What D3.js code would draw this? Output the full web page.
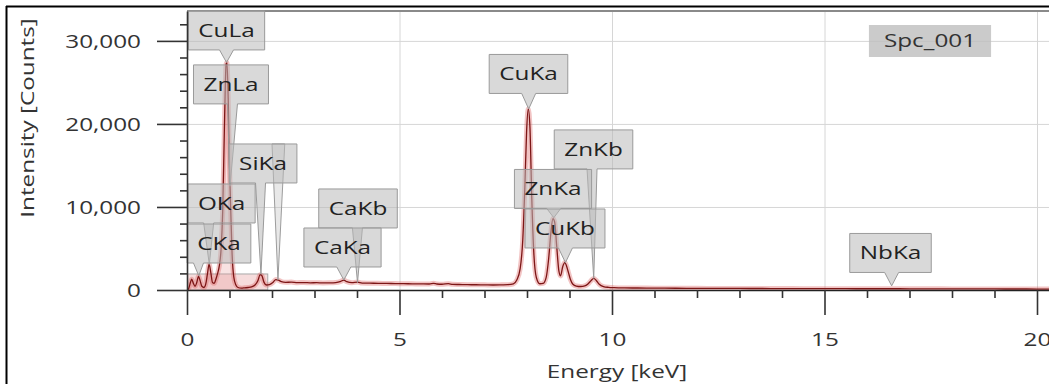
<!DOCTYPE html>
<html>
<head>
<meta charset="utf-8">
<script src="https://cdn.jsdelivr.net/npm/d3@7"></script>
<style>
  html, body { margin: 0; padding: 0; background: #fff; }
  svg { display: block; }
  text { font-family: "Open Sans", "Noto Sans", sans-serif; }
</style>
</head>
<body>
<svg id="chart" width="1049" height="384"></svg>
<script>
// ---- EDS spectrum samples: energy (keV) and intensity (counts) ----
const energy = [
  0.00, 0.04, 0.08, 0.11, 0.15, 0.19, 0.23, 0.27, 0.31, 0.35, 0.40, 0.44, 0.48, 0.52, 0.56, 0.60,
  0.64, 0.68, 0.72, 0.76, 0.80, 0.84, 0.88, 0.92, 0.94, 0.97, 1.00, 1.03, 1.06, 1.10, 1.15, 1.20,
  1.28, 1.36, 1.44, 1.52, 1.60, 1.67, 1.72, 1.76, 1.81, 1.87, 1.94, 2.02, 2.09, 2.15, 2.22, 2.32,
  2.45, 2.60, 2.75, 2.90, 3.05, 3.20, 3.35, 3.50, 3.62, 3.69, 3.76, 3.88, 4.01, 4.12, 4.30, 4.50,
  4.70, 4.90, 5.10, 5.30, 5.50, 5.70, 5.80, 5.88, 6.00, 6.15, 6.25, 6.40, 6.60, 6.80, 7.00, 7.20,
  7.40, 7.55, 7.68, 7.76, 7.84, 7.90, 7.95, 7.99, 8.03, 8.07, 8.11, 8.16, 8.22, 8.30, 8.38, 8.45,
  8.51, 8.56, 8.61, 8.65, 8.70, 8.75, 8.79, 8.84, 8.89, 8.93, 8.97, 9.02, 9.08, 9.16, 9.26, 9.36,
  9.44, 9.51, 9.57, 9.63, 9.70, 9.80, 9.92, 10.05, 10.3, 10.6, 11.0, 11.5, 12.0, 12.5, 13.0, 13.5,
  14.0, 14.5, 15.0, 15.5, 16.0, 16.5, 17.0, 17.5, 18.0, 18.5, 19.0, 19.5, 20.0, 20.6
];
const counts = [
  0, 200, 900, 1300, 800, 450, 900, 1650, 1100, 450, 300, 700, 1900, 3100, 2100, 900,
  800, 1300, 2000, 2900, 4800, 9500, 19500, 27200, 27400, 23000, 15000, 9500, 4500, 1600, 600, 300,
  220, 260, 300, 380, 600, 1150, 1850, 1750, 950, 600, 650, 900, 1250, 1200, 1000, 920,
  950, 880, 900, 870, 880, 850, 860, 900, 1050, 1200, 1000, 880, 950, 840, 820, 800,
  790, 770, 760, 740, 730, 720, 800, 720, 690, 760, 680, 660, 640, 630, 620, 600,
  620, 640, 750, 1200, 2600, 6000, 12500, 19000, 21800, 19500, 11500, 4500, 1500, 750, 800, 1500,
  3800, 6800, 8600, 8200, 5200, 2300, 1700, 2800, 3300, 2900, 2200, 1300, 700, 480, 420, 500,
  750, 1150, 1400, 1150, 700, 420, 320, 280, 250, 240, 220, 210, 200, 190, 185, 180,
  170, 165, 160, 155, 150, 150, 145, 140, 135, 130, 125, 120, 115, 110
];

// ---- identified X-ray lines ----
const lineNames    = ["CuLa", "ZnLa", "SiKa", "OKa", "CKa", "CaKb", "CaKa", "CuKa", "ZnKb", "ZnKa", "CuKb", "NbKa"];
const lineEnergies = [0.930, 1.012, 1.740, 0.525, 0.277, 4.012, 3.690, 8.040, 9.570, 8.630, 8.905, 16.580];
const lineCounts   = [27400, 12500, 1900, 3100, 1700, 900, 1200, 21800, 1400, 8700, 3300, 500];

// ---- axis ticks ----
const yTicks = [0, 10000, 20000, 30000];
const yMinorTicks = [2000, 4000, 6000, 8000, 12000, 14000, 16000, 18000, 22000, 24000, 26000, 28000, 32000];
const xTicks = [0, 5, 10, 15, 20];
const xMinorTicks = [1, 2, 3, 4, 6, 7, 8, 9, 11, 12, 13, 14, 16, 17, 18, 19];
const spectrumName = "Spc_001";
const xTitle = "Energy [keV]";
const yTitle = "Intensity [Counts]";

// ---- callout placement (box centre in keV / counts, pointer style) ----
const calloutLayout = {
  CuLa: { bx: 0.929, by: 31260, pointer: "notch" },
  ZnLa: { bx: 1.035, by: 24760, pointer: "leader", px: 1.07 },
  SiKa: { bx: 1.788, by: 15240, pointer: "leader", px: 1.73 },
  OKa:  { bx: 0.812, by: 10420, pointer: "leader", px: 0.51 },
  CKa:  { bx: 0.753, by: 5600,  pointer: "leader", px: 0.27 },
  CaKb: { bx: 4.024, by: 9820,  pointer: "leader", px: 4.01 },
  CaKa: { bx: 3.659, by: 5120,  pointer: "notch" },
  CuKa: { bx: 8.035, by: 26020, pointer: "notch" },
  ZnKb: { bx: 9.565, by: 16930, pointer: "leader", px: 9.53 },
  ZnKa: { bx: 8.612, by: 12170, pointer: "notch" },
  CuKb: { bx: 8.894, by: 7410,  pointer: "notch" },
  NbKa: { bx: 16.553, by: 4460, pointer: "notch" }
};
// unlabelled marker running down through the SiKa box
const strayMarker = { e0: 2.00, e1: 2.30, top: 17590, tipE: 2.14, tipC: 1250 };
// shaded low-energy region box
const lowBand = { e0: 0, e1: 1.90, c: 1930 };
// the light fill under the curve only covers the low-energy end
const fillLimit = 1.12;

// ---- layout ----
const W = 1049, H = 384;
const SX = 1.35;               // horizontal text stretch
const svg = d3.select("#chart");

const x = d3.scaleLinear().domain([0, 20.6]).range([187, 187 + 42.5 * 20.6]);
const y = d3.scaleLinear().domain([0, 33600]).range([290, 11]);

const spectrum = energy.map((e, i) => ({ e, c: counts[i] }));

svg.append("defs").append("clipPath").attr("id", "plotClip")
  .append("rect").attr("x", x(0)).attr("y", y(33600)).attr("width", W - x(0)).attr("height", y(0) - y(33600) + 1);

// grid
const grid = svg.append("g").attr("stroke", "#d6d6d6").attr("stroke-width", 1);
grid.selectAll("line.h").data(yTicks.slice(1)).join("line")
  .attr("x1", x(0)).attr("x2", W).attr("y1", d => y(d) + 0.5).attr("y2", d => y(d) + 0.5);
grid.selectAll("line.v").data(xTicks.slice(1)).join("line")
  .attr("y1", y(33600)).attr("y2", y(0)).attr("x1", d => x(d) + 0.5).attr("x2", d => x(d) + 0.5);

// plot top border
svg.append("line").attr("x1", x(0)).attr("x2", W).attr("y1", y(33600)).attr("y2", y(33600))
  .attr("stroke", "#8a8a8a").attr("stroke-width", 2.2);

const plot = svg.append("g").attr("clip-path", "url(#plotClip)");

// low-energy band
plot.append("rect")
  .attr("x", x(lowBand.e0)).attr("y", y(lowBand.c))
  .attr("width", x(lowBand.e1) - x(lowBand.e0)).attr("height", y(0) - y(lowBand.c))
  .attr("fill", "rgba(236,178,178,0.45)").attr("stroke", "#a8a8a8").attr("stroke-width", 1);

// spectrum
const area = d3.area().x(d => x(d.e)).y0(y(0)).y1(d => y(d.c)).curve(d3.curveMonotoneX);
const line = d3.line().x(d => x(d.e)).y(d => y(d.c)).curve(d3.curveMonotoneX);
plot.append("path").datum(spectrum.filter(d => d.e <= fillLimit)).attr("d", area)
  .attr("fill", "rgba(230,150,150,0.28)");
plot.append("path").datum(spectrum).attr("d", line).attr("fill", "none")
  .attr("stroke", "rgba(222,100,100,0.38)").attr("stroke-width", 5).attr("stroke-linejoin", "round");
plot.append("path").datum(spectrum).attr("d", line).attr("fill", "none")
  .attr("stroke", "#7d1616").attr("stroke-width", 1.3).attr("stroke-linejoin", "round");

// text helper
function stretchedText(g, tx, ty, str, anchor, size, fill) {
  return g.append("text")
    .attr("transform", `translate(${tx},${ty}) scale(${SX},1)`)
    .attr("text-anchor", anchor).attr("dy", "0.35em")
    .attr("font-size", size).attr("fill", fill).text(str);
}

// callouts
const callouts = svg.append("g");
const boxH = 39, pad = 10;

// stray marker drawn first so boxes sit on top of it
callouts.append("path")
  .attr("d", `M${x(strayMarker.e0)},${y(strayMarker.top)} L${x(strayMarker.tipE)},${y(strayMarker.tipC)} L${x(strayMarker.e1)},${y(strayMarker.top)} Z`)
  .attr("fill", "rgba(190,190,190,0.35)").attr("stroke", "#9c9c9c").attr("stroke-width", 1);

lineNames.forEach((name, i) => {
  const L = calloutLayout[name];
  const g = callouts.append("g");
  const path = g.append("path");
  const t = stretchedText(g, x(L.bx), y(L.by), name, "middle", 18, "#222");
  const w = t.node().getComputedTextLength() * SX + 2 * pad;
  const x0 = x(L.bx) - w / 2, x1 = x(L.bx) + w / 2;
  const y0 = y(L.by) - boxH / 2, y1 = y(L.by) + boxH / 2;
  const tx = x(lineEnergies[i]), ty = y(lineCounts[i]);
  const pc = L.pointer === "notch" ? tx : x(L.px);
  const hw = L.pointer === "notch" ? 7 : 5;
  path.attr("d", `M${x0},${y0} H${x1} V${y1} H${pc + hw} L${tx},${ty} L${pc - hw},${y1} H${x0} Z`)
    .attr("fill", "rgba(185,185,185,0.55)").attr("stroke", "#9a9a9a").attr("stroke-width", 1);
});

// spectrum name tag
const tag = svg.append("g");
const tagRect = tag.append("rect");
const tagText = stretchedText(tag, 930, 41, spectrumName, "middle", 18, "#333");
const tw = tagText.node().getComputedTextLength() * SX + 30;
tagRect.attr("x", 930 - tw / 2).attr("y", 25).attr("width", tw).attr("height", 32)
  .attr("fill", "rgba(190,190,190,0.8)");

// y axis
const gy = svg.append("g").attr("transform", `translate(${x(0)},0)`)
  .call(d3.axisLeft(y).tickValues(yTicks).tickSize(30).tickSizeOuter(0).tickFormat(d3.format(",")));
gy.select(".domain").attr("stroke", "#333").attr("stroke-width", 1.6);
gy.selectAll(".tick line").attr("stroke", "#333").attr("stroke-width", 1.6);
gy.selectAll(".tick text")
  .attr("x", null).attr("dy", "0.35em")
  .attr("transform", `translate(-46,0) scale(${SX},1)`)
  .attr("font-size", 18).attr("font-family", null).attr("fill", "#333").attr("text-anchor", "end");

const gyMinor = svg.append("g").attr("transform", `translate(${x(0)},0)`)
  .call(d3.axisLeft(y).tickValues(yMinorTicks).tickSize(7).tickFormat(""));
gyMinor.select(".domain").remove();
gyMinor.selectAll(".tick line").attr("stroke", "#333").attr("stroke-width", 1.6);

// x axis
const gx = svg.append("g").attr("transform", `translate(0,${y(0)})`)
  .call(d3.axisBottom(x).tickValues(xTicks).tickSize(25).tickSizeOuter(0).tickFormat(d3.format("d")));
gx.select(".domain").attr("stroke", "#222").attr("stroke-width", 1.6);
gx.selectAll(".tick line").attr("stroke", "#333").attr("stroke-width", 1.6);
gx.selectAll(".tick text")
  .attr("y", null).attr("dy", "0.35em")
  .attr("transform", `translate(0,50) scale(${SX},1)`)
  .attr("font-size", 18).attr("font-family", null).attr("fill", "#333");

const gxMinor = svg.append("g").attr("transform", `translate(0,${y(0)})`)
  .call(d3.axisBottom(x).tickValues(xMinorTicks).tickSize(8).tickFormat(""));
gxMinor.select(".domain").remove();
gxMinor.selectAll(".tick line").attr("stroke", "#333").attr("stroke-width", 1.6);

// axis titles
stretchedText(svg, 617, 372, xTitle, "middle", 18, "#333");
svg.append("text")
  .attr("transform", `translate(28,118) rotate(-90) scale(${SX},1)`)
  .attr("text-anchor", "middle").attr("dy", "0.35em")
  .attr("font-size", 18).attr("fill", "#333").text(yTitle);

// outer frame
svg.append("line").attr("x1", 6).attr("x2", W).attr("y1", 6.5).attr("y2", 6.5)
  .attr("stroke", "#000").attr("stroke-width", 2);
svg.append("line").attr("x1", 6.5).attr("x2", 6.5).attr("y1", 6).attr("y2", H)
  .attr("stroke", "#000").attr("stroke-width", 2);
</script>
</body>
</html>
